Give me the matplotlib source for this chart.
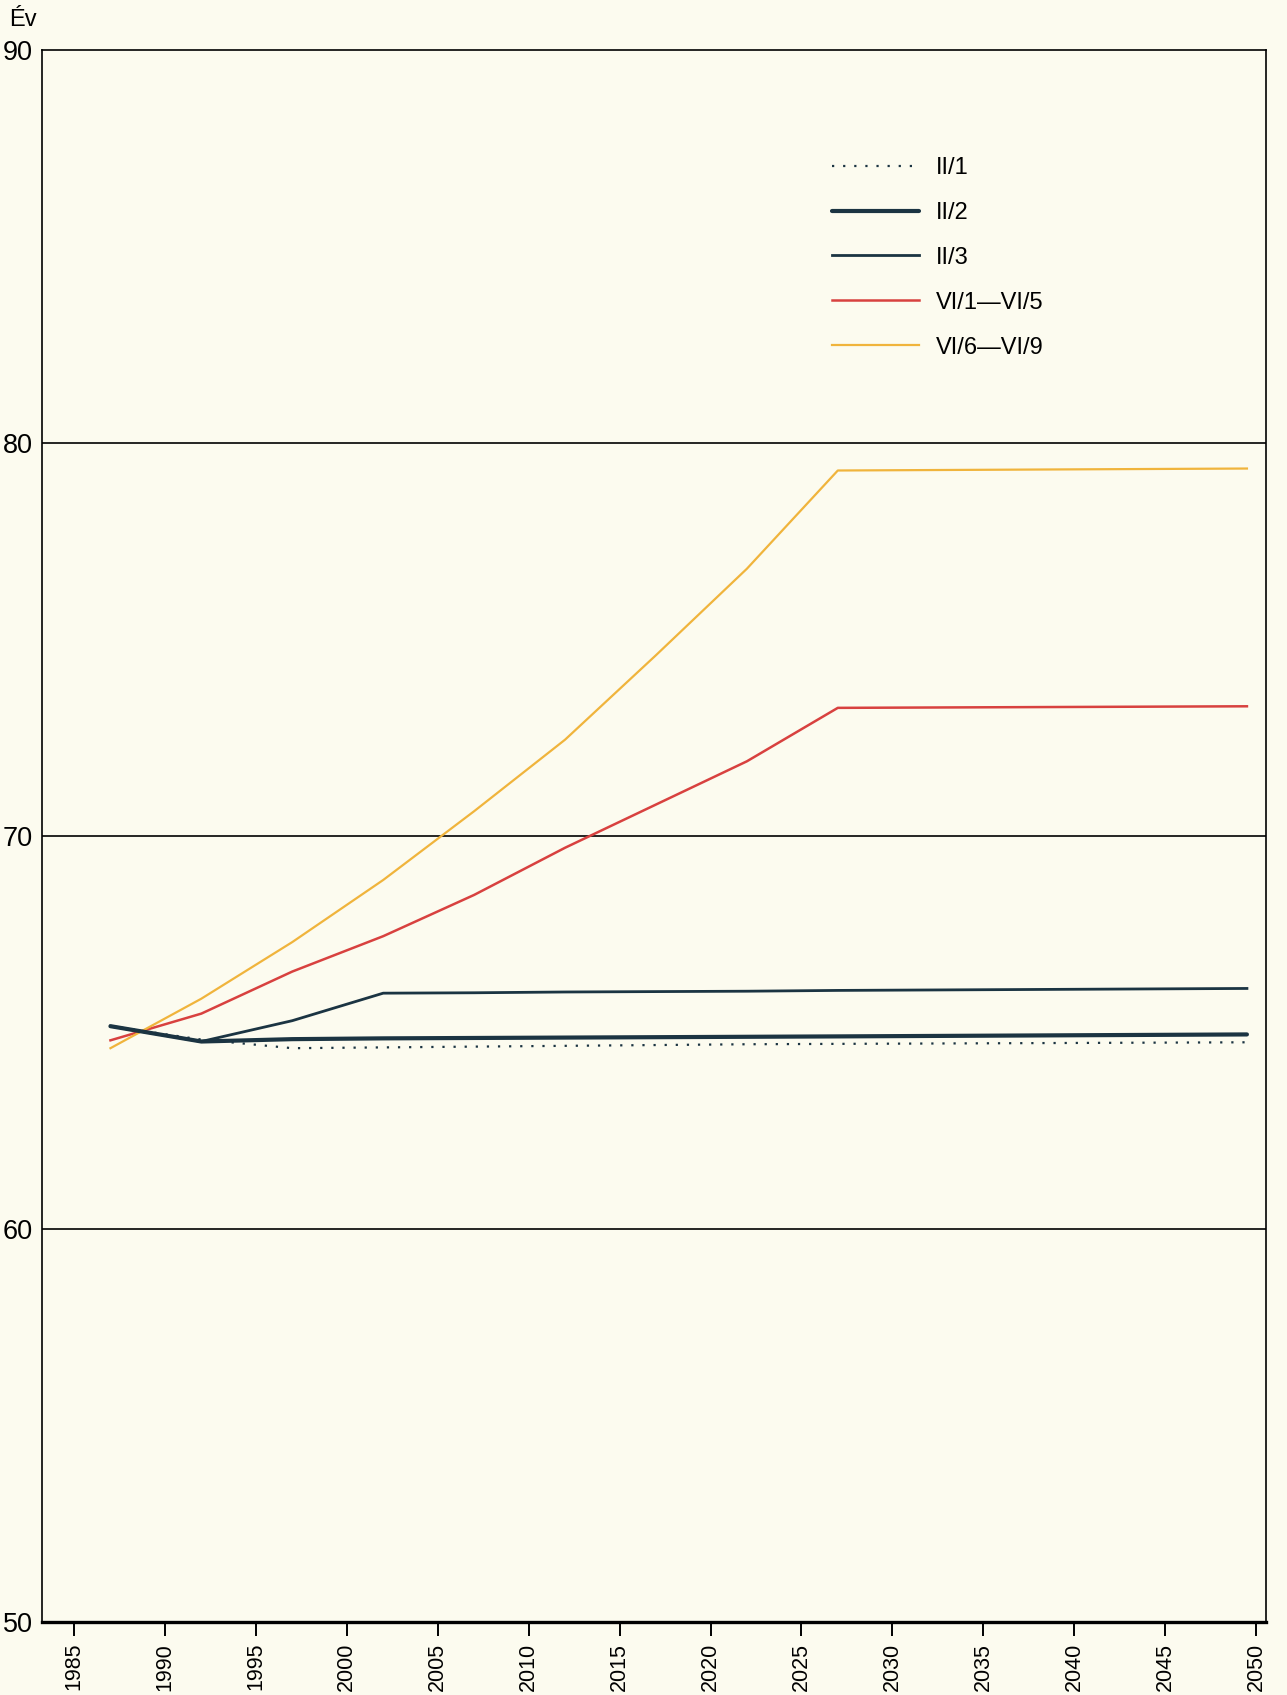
import matplotlib
matplotlib.use("Agg")
import matplotlib.pyplot as plt

plt.rcParams['font.family'] = ['Liberation Sans', 'DejaVu Sans']

# ---- data ----
years = [1987, 1992, 1997, 2002, 2007, 2012, 2017, 2022, 2027, 2049.5]
ii_1 = [65.16, 64.82, 64.60, 64.62, 64.64, 64.66, 64.68, 64.70, 64.71, 64.75]
ii_2 = [65.16, 64.77, 64.83, 64.85, 64.86, 64.87, 64.88, 64.89, 64.90, 64.95]
ii_3 = [65.16, 64.77, 65.30, 66.00, 66.01, 66.03, 66.04, 66.05, 66.07, 66.12]
vi_1_5 = [64.80, 65.48, 66.55, 67.45, 68.50, 69.70, 70.80, 71.90, 73.26, 73.30]
vi_6_9 = [64.60, 65.86, 67.30, 68.88, 70.63, 72.45, 74.60, 76.80, 79.30, 79.35]

labels = ["II/1", "II/2", "II/3", "VI/1\u2014VI/5", "VI/6\u2014VI/9"]
xticks = list(range(1985, 2051, 5))
yticks = [50, 60, 70, 80, 90]
ylabel_text = "\u00c9v"

# ---- style ----
bg = "#fcfbef"
dark = "#1b3442"
red = "#d8413f"
yellow = "#f0b43c"

fig = plt.figure(figsize=(12.87, 16.95), dpi=100, facecolor=bg)
ax = fig.add_axes([0.0327, 0.0431, 0.951, 0.9274], facecolor=bg)

ax.set_xlim(1983.24, 2050.55)
ax.set_ylim(50, 90)

for y in [60, 70, 80]:
    ax.axhline(y, color="black", lw=1.2, zorder=1)

l1, = ax.plot(years, ii_1, color=dark, lw=1.6, linestyle=(0, (1, 4)),
              dash_capstyle='butt', zorder=3)
l2, = ax.plot(years, ii_2, color=dark, lw=3.0, zorder=4, solid_capstyle='round')
l3, = ax.plot(years, ii_3, color=dark, lw=2.0, zorder=4)
l4, = ax.plot(years, vi_1_5, color=red, lw=1.8, zorder=3)
l5, = ax.plot(years, vi_6_9, color=yellow, lw=1.6, zorder=3)

for s in ['left', 'right', 'top']:
    ax.spines[s].set_linewidth(1.2)
ax.spines['bottom'].set_linewidth(2.4)

ax.set_xticks(xticks)
ax.set_xticklabels([str(x) for x in xticks], rotation=90, fontsize=15.5)
ax.tick_params(axis='x', direction='out', length=10, width=1.4, pad=5)
ax.set_yticks(yticks)
ax.set_yticklabels([str(y) for y in yticks], fontsize=19.5)
ax.tick_params(axis='y', length=0, pad=6.5)

fig.text(0.007, 1 - 20 / 1695, ylabel_text, fontsize=17, va='center', ha='left')

handles = [l1, l2, l3, l4, l5]
leg = ax.legend(handles, labels, loc='upper left',
                bbox_to_anchor=(0.645, 0.932), frameon=False, fontsize=17,
                handlelength=3.7, handletextpad=0.72, labelspacing=0.97,
                borderpad=0, borderaxespad=0)

fig.savefig("out.png", dpi=100, facecolor=bg)
